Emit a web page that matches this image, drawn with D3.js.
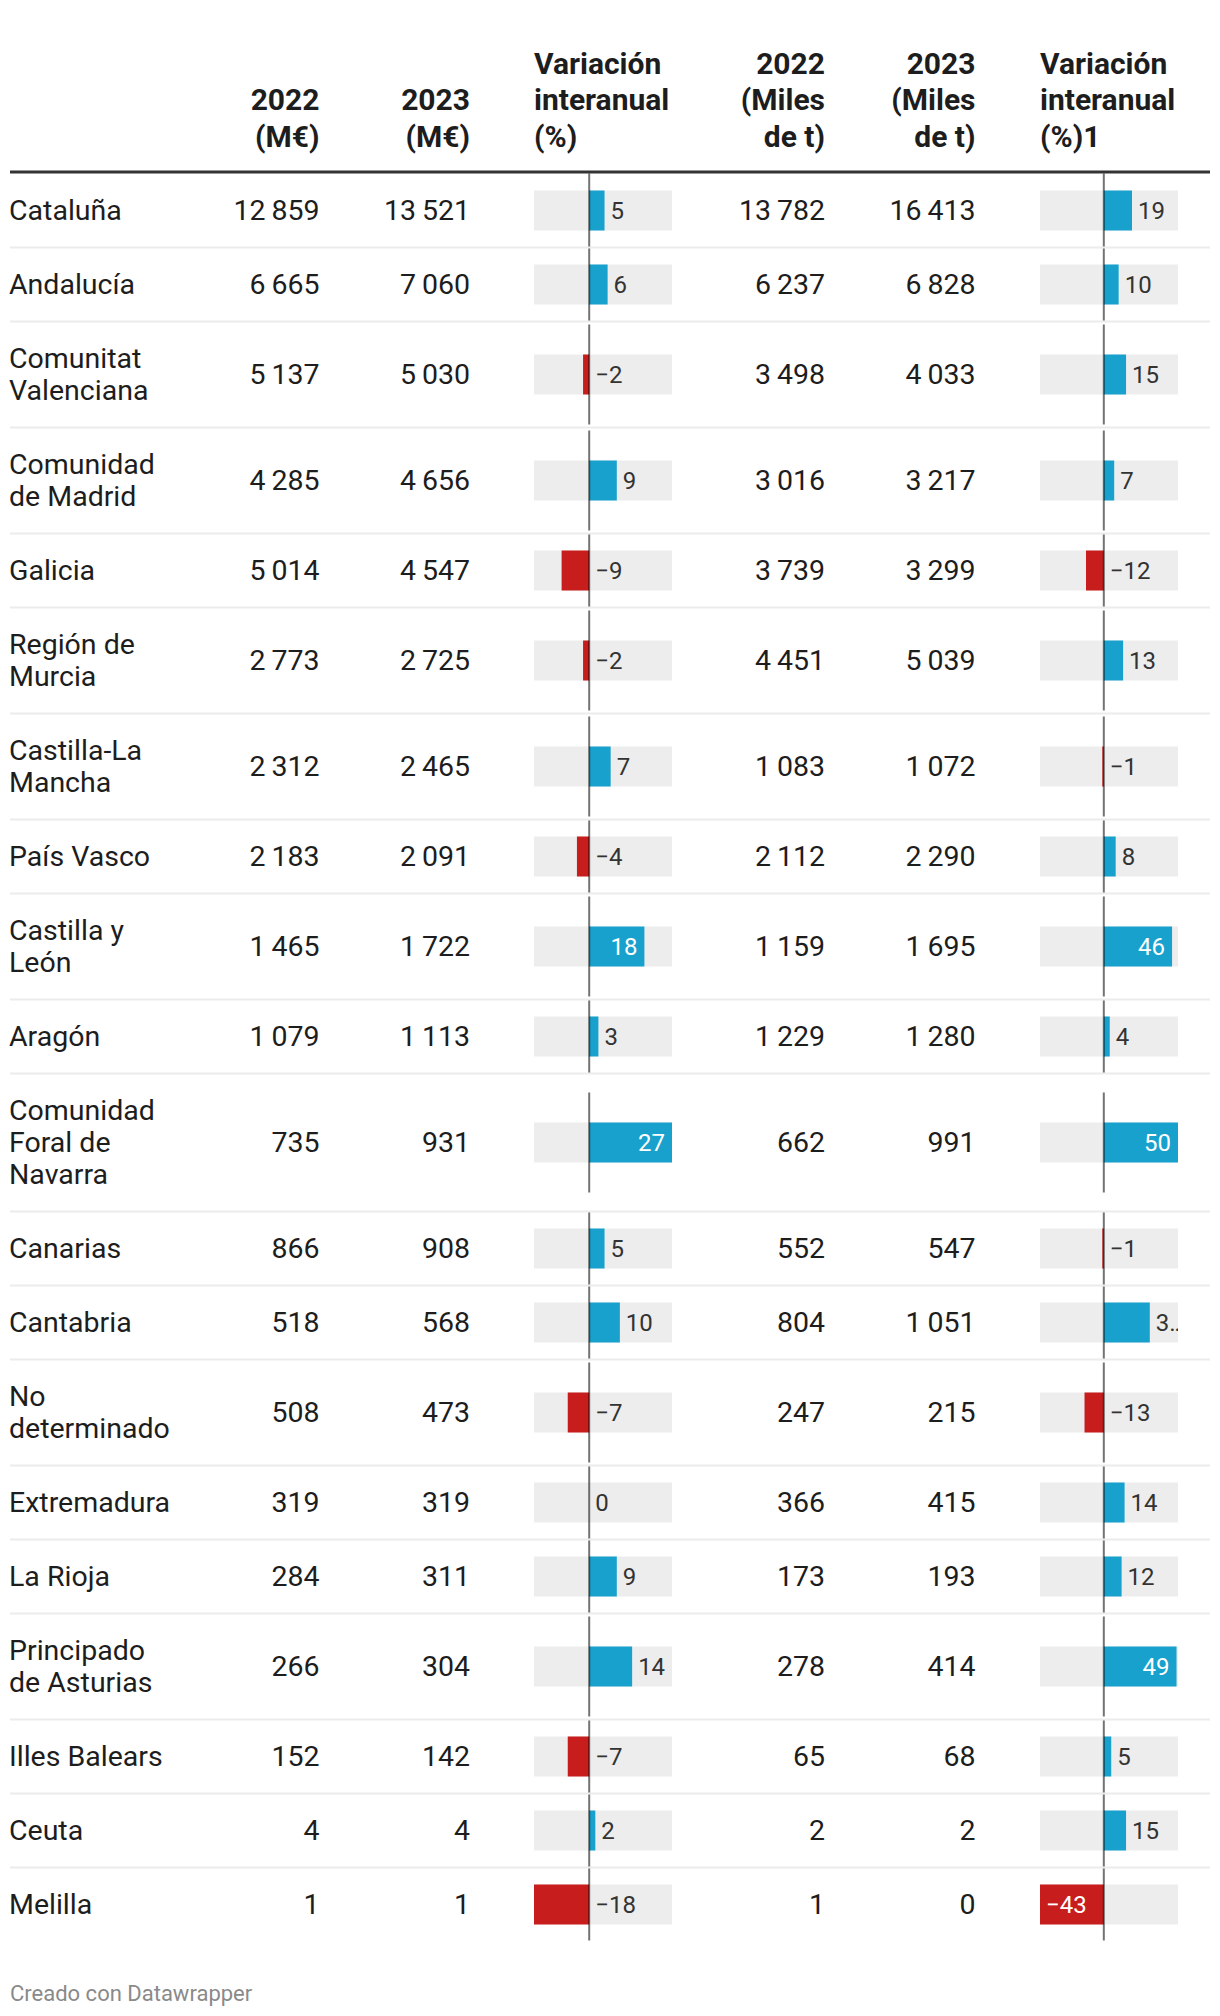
<!DOCTYPE html>
<html><head><meta charset="utf-8">
<script src="https://cdn.jsdelivr.net/npm/d3@7"></script>
<style>body{margin:0;background:#fff} svg{display:block;font-family:Roboto, sans-serif}</style>
</head><body><svg id="c" width="1220" height="2016"></svg>
<script>
const regions = ["Cataluña","Andalucía","Comunitat Valenciana","Comunidad de Madrid","Galicia","Región de Murcia","Castilla-La Mancha","País Vasco","Castilla y León","Aragón","Comunidad Foral de Navarra","Canarias","Cantabria","No determinado","Extremadura","La Rioja","Principado de Asturias","Illes Balears","Ceuta","Melilla"];
const eur2022 = [12859,6665,5137,4285,5014,2773,2312,2183,1465,1079,735,866,518,508,319,284,266,152,4,1];
const eur2023 = [13521,7060,5030,4656,4547,2725,2465,2091,1722,1113,931,908,568,473,319,311,304,142,4,1];
const varEur  = [5,6,-2,9,-9,-2,7,-4,18,3,27,5,10,-7,0,9,14,-7,2,-18];
const t2022   = [13782,6237,3498,3016,3739,4451,1083,2112,1159,1229,662,552,804,247,366,173,278,65,2,1];
const t2023   = [16413,6828,4033,3217,3299,5039,1072,2290,1695,1280,991,547,1051,215,415,193,414,68,2,0];
const varT    = [19,10,15,7,-12,13,-1,8,46,4,50,-1,31,-13,14,12,49,5,15,-43];
const headers = [[], ["2022","(M€)"], ["2023","(M€)"], ["Variación","interanual","(%)"], ["2022","(Miles","de t)"], ["2023","(Miles","de t)"], ["Variación","interanual","(%)1"]];
const footer = "Creado con Datawrapper";

const FS = 28.5, HFS = 30, LFS = 24;
const svg = d3.select("#c");
svg.append("rect").attr("width",1220).attr("height",2016).attr("fill","#fff");

const locale = d3.formatLocale({decimal:",", thousands:"\u2009", grouping:[3], currency:["","€"], minus:"\u2212"});
const fmtNum = locale.format(",d");
const fmtPct = locale.format("d");

const meas = svg.append("text").attr("font-size",FS).attr("x",-1000).attr("y",-1000);
function textW(s, size, weight){ meas.attr("font-size",size).attr("font-weight",weight||400).text(s); return meas.node().getComputedTextLength(); }

function wrap(s, maxW){
  const words = s.split(" "); const lines=[]; let cur="";
  words.forEach(w=>{ const t = cur? cur+" "+w : w; if (cur && textW(t,FS) > maxW){ lines.push(cur); cur=w; } else cur=t; });
  lines.push(cur); return lines;
}

const L = 10, R = 1210;
const numCols = [{data:eur2022, x:319.5},{data:eur2023, x:470},{data:t2022, x:825},{data:t2023, x:975.5}];
const barCols = [
  {data:varEur, scale:d3.scaleLinear().domain(d3.extent(varEur.concat([0]))).range([534,672])},
  {data:varT,   scale:d3.scaleLinear().domain(d3.extent(varT.concat([0]))).range([1040,1178])}
];
const headerX = [null, 319.5, 470, 534, 825, 975.5, 1040];
const headerAnchor = [null,"end","end","start","end","end","start"];

const hb = 146.5, hlh = 36.5;
headers.forEach((lines,i)=>{
  lines.forEach((ln,j)=>{
    svg.append("text").attr("x",headerX[i]).attr("y", hb - (lines.length-1-j)*hlh)
      .attr("text-anchor",headerAnchor[i]).attr("font-size",HFS).attr("font-weight",700).attr("fill","#1d1d1d").text(ln);
  });
});
svg.append("rect").attr("x",L).attr("y",170.5).attr("width",R-L).attr("height",3).attr("fill","#333");

const LH = 32;
let rowTop = 173.5;
const rows = regions.map((r,i)=>{
  const lines = wrap(r, 166);
  const h = 42 + LH*lines.length;
  const row = {i, name:r, lines, top:rowTop, h, cy: rowTop + h/2};
  rowTop += h;
  return row;
});

const g = svg.append("g");
rows.forEach(row=>{
  if (row.i>0) g.append("rect").attr("x",L).attr("y",row.top-1).attr("width",R-L).attr("height",2).attr("fill","#ececec");
  const off = 9.5;
  row.lines.forEach((ln,j)=>{
    g.append("text").attr("x",9).attr("y", row.cy + off + (j-(row.lines.length-1)/2)*LH)
     .attr("font-size",FS).attr("fill","#1d1d1d").text(ln);
  });
  numCols.forEach(c=>{
    g.append("text").attr("x",c.x).attr("y",row.cy+off).attr("text-anchor","end")
     .attr("font-size",FS).attr("fill","#1d1d1d").text(fmtNum(c.data[row.i]));
  });
});

barCols.forEach((c,ci)=>{
  const x = c.scale, r = x.range(), colW = r[1]-r[0], x0 = x(0);
  const clipId = "clip"+ci;
  svg.append("clipPath").attr("id",clipId).append("rect").attr("x",r[0]).attr("y",0).attr("width",colW).attr("height",2016);
  const bg = svg.append("g");
  rows.forEach(row=>{
    const v = c.data[row.i];
    const by = row.cy - 20;
    bg.append("rect").attr("x",r[0]).attr("y",by).attr("width",colW).attr("height",40).attr("fill","#ededed");
    bg.append("rect").attr("x",Math.min(x(v),x0)).attr("y",by).attr("width",Math.abs(x(v)-x0)).attr("height",40)
      .attr("fill", v<0 ? "#c71e1d" : "#18a1cd");
    const w = Math.abs(x(v)-x0);
    const inside = v>0 ? w/colW >= 0.38 : w/colW >= 0.45;
    let txt = fmtPct(v), tx, anchor="start", fill="#333";
    if (inside){
      fill="#fff";
      if (v>0){ tx = x(v)-7; anchor="end"; } else { tx = x(v)+6; }
    } else {
      tx = (v>0 ? x(v) : x0) + 6;
      if (tx + textW(txt,LFS) > r[1]) txt = txt[0] + "\u2026";
    }
    bg.append("text").attr("x",tx).attr("y",row.cy+8.5).attr("text-anchor",anchor)
      .attr("font-size",LFS).attr("fill",fill).attr("clip-path","url(#"+clipId+")").text(txt);
    const y1 = Math.max(row.cy-50, row.top+(row.i>0?1:0)), y2 = Math.min(row.cy+50, row.top+row.h-1);
    bg.append("line").attr("x1",x0).attr("x2",x0).attr("y1",y1).attr("y2",y2)
      .attr("stroke","#000").attr("stroke-opacity",0.55).attr("stroke-width",2);
  });
});

svg.append("text").attr("x",10).attr("y",2000.5).attr("font-size",22).attr("fill","#8a8a8a").text(footer);
meas.remove();
</script></body></html>
